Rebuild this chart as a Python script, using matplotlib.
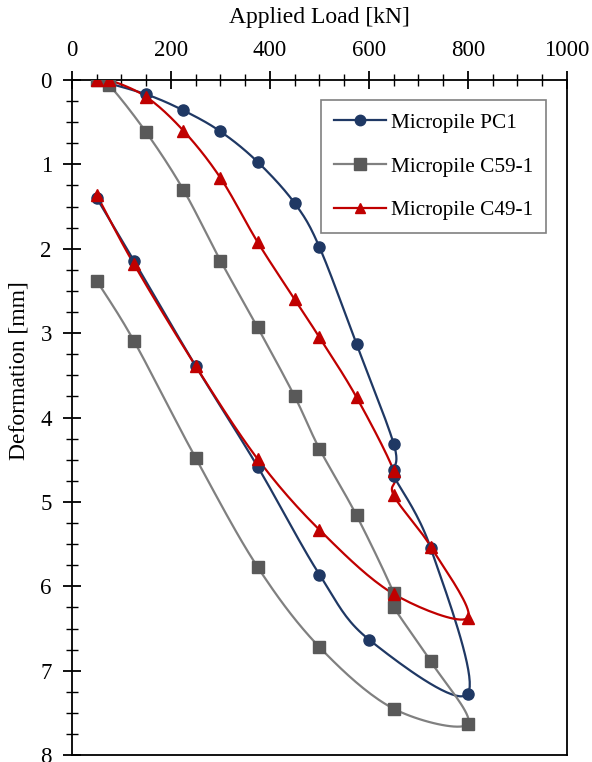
import numpy as np
import matplotlib.pyplot as plt
from matplotlib.ticker import MultipleLocator

# load [kN] / deformation [mm]
pc1_load = [50, 150, 225, 300, 375, 450, 500, 575, 650, 650, 650, 725, 800, 600, 500, 375, 250, 125, 50]
pc1_def = [0.0, 0.17, 0.36, 0.61, 0.97, 1.46, 1.98, 3.13, 4.31, 4.62, 4.69, 5.55, 7.27, 6.63, 5.86, 4.58, 3.39, 2.14, 1.40]

c59_load = [50, 75, 150, 225, 300, 375, 450, 500, 575, 650, 650, 725, 800, 650, 500, 375, 250, 125, 50]
c59_def = [0.0, 0.06, 0.62, 1.30, 2.14, 2.93, 3.75, 4.37, 5.16, 6.08, 6.24, 6.89, 7.63, 7.45, 6.72, 5.77, 4.48, 3.09, 2.38]

c49_load = [50, 75, 150, 225, 300, 375, 450, 500, 575, 650, 650, 725, 800, 650, 500, 375, 250, 125, 50]
c49_def = [0.0, 0.0, 0.20, 0.60, 1.16, 1.92, 2.60, 3.05, 3.76, 4.63, 4.92, 5.53, 6.37, 6.09, 5.33, 4.49, 3.39, 2.18, 1.36]

labels = ['Micropile PC1', 'Micropile C59-1', 'Micropile C49-1']


def smooth(x, y, n=20):
    # excel-like smoothed line (catmull-rom through the points)
    p = np.column_stack([x, y]).astype(float)
    p = np.vstack([p[0], p, p[-1]])
    out = []
    t = np.linspace(0, 1, n, endpoint=False)[:, None]
    for i in range(1, len(p) - 2):
        p0, p1, p2, p3 = p[i - 1], p[i], p[i + 1], p[i + 2]
        c1 = p1 + (p2 - p0) / 6
        c2 = p2 - (p3 - p1) / 6
        seg = ((1 - t) ** 3) * p1 + 3 * ((1 - t) ** 2) * t * c1 + 3 * (1 - t) * t ** 2 * c2 + t ** 3 * p2
        out.append(seg)
    out.append(p[-2][None, :])
    out = np.vstack(out)
    return out[:, 0], out[:, 1]


plt.rcParams['font.family'] = 'Liberation Serif'

fig = plt.figure(figsize=(5.92, 7.62), dpi=100)
ax = fig.add_axes([0.1216, 0.009, 0.836, 0.886])

series = [
    (pc1_load, pc1_def, '#1f3864', '#1f3864', 'o', 8),
    (c59_load, c59_def, '#808080', '#595959', 's', 9),
    (c49_load, c49_def, '#c00000', '#c00000', '^', 8),
]
for (x, y, lc, mc, m, ms), lab in zip(series, labels):
    sx, sy = smooth(x, y)
    ax.plot(sx, sy, color=lc, lw=1.6, zorder=2)
    ax.plot(x, y, ls='none', marker=m, ms=ms, color=mc, zorder=3)
    ax.plot([], [], color=lc, lw=1.6, marker=m, ms=ms - 0.5, mfc=mc, mec=mc, label=lab)

ax.set_xlim(0, 1000)
ax.set_ylim(8, 0)
ax.xaxis.set_major_locator(MultipleLocator(200))
ax.xaxis.set_minor_locator(MultipleLocator(50))
ax.yaxis.set_major_locator(MultipleLocator(1))
ax.yaxis.set_minor_locator(MultipleLocator(0.25))
ax.xaxis.tick_top()
ax.xaxis.set_label_position('top')
ax.tick_params(which='major', direction='inout', length=13, width=1.3, labelsize=16.5)
ax.tick_params(which='minor', direction='inout', length=9, width=1)
ax.tick_params(axis='x', pad=7)
ax.tick_params(axis='y', pad=8)
for s in ax.spines.values():
    s.set_linewidth(1.3)

ax.set_xlabel('Applied Load [kN]', fontsize=17, va='center')
ax.set_ylabel('Deformation [mm]', fontsize=17, va='center')
ax.xaxis.set_label_coords(0.5, 1.092)
ax.yaxis.set_label_coords(-0.107, 0.569)

leg = ax.legend(loc='upper right', bbox_to_anchor=(0.9576, 0.970), borderaxespad=0,
                fontsize=15.3, fancybox=False, edgecolor='#808080', framealpha=1,
                handlelength=2.45, labelspacing=1.12, borderpad=0.6, handletextpad=0.25)
leg.get_frame().set_linewidth(1.2)

fig.savefig('out.png', dpi=100)
